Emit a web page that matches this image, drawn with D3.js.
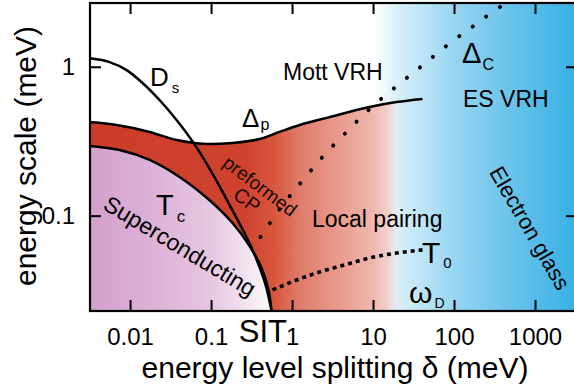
<!DOCTYPE html>
<html>
<head>
<meta charset="utf-8">
<style>
body { margin: 0; background: #fff; }
svg { font-family: "Liberation Sans", Arial, sans-serif; }
.axis path.domain { display: none; }
.axis line { stroke: #000; stroke-width: 2; }
.axis text { font-size: 24px; fill: #000; font-family: "Liberation Sans", Arial, sans-serif; }
.curve { fill: none; stroke: #000; stroke-width: 2.5; }
.lbl { fill: #000; }
</style>
<script src="https://cdn.jsdelivr.net/npm/d3@7"></script>
</head>
<body>
<svg width="574" height="390"></svg>
<script>

// tick values / labels
var xTicks = [0.01, 0.1, 1, 10, 100, 1000],
    xTickLabels = ["0.01", "0.1", "1", "10", "100", "1000"],
    yTicks = [0.1, 1],
    yTickLabels = ["0.1", "1"];

// curves, [delta (meV), energy (meV)]
var Ds = [[0.0032,1.14],[0.00558,1.075],[0.00906,0.95],[0.01426,0.778],[0.0231,0.598],[0.0375,0.439],
          [0.0608,0.308],[0.1045,0.191],[0.169,0.118],[0.274,0.0719],[0.375,0.0489],[0.471,0.0343],[0.558,0.0229]];
var Tc = [[0.0032,0.294],[0.00742,0.276],[0.0174,0.237],[0.0408,0.182],[0.0958,0.127],[0.184,0.0893],
          [0.299,0.0626],[0.42,0.0446],[0.513,0.0317],[0.558,0.0229]];
var Dp = [[0.0032,0.425],[0.00681,0.406],[0.0174,0.365],[0.0375,0.322],[0.0625,0.308],[0.0958,0.303],
          [0.184,0.308],[0.397,0.327],[0.701,0.365],[1.24,0.406],[2.9,0.459],[9.06,0.537],[19.5,0.579],[40.8,0.607]];
var Dc = [[0.408,0.0719],[0.721,0.1127],[1.3,0.168],[2.38,0.248],[4.71,0.365],[9.06,0.52],[18.9,0.731],
          [39.7,1.01],[83.2,1.4],[179,1.9],[385,2.55],[460,2.68]];
var T0 = [[0.574,0.0317],[1.14,0.037],[2.19,0.0419],[4.45,0.0467],[9.06,0.052],[19.5,0.0561],[40.8,0.0589]];

var svg = d3.select("svg");

var x = d3.scaleLog().domain([0.0032, 3300]).range([90, 577]),
    y = d3.scaleLog().domain([0.0229, 2.68]).range([311, 3]);

var line = d3.line()
    .x(function(d) { return x(d[0]); })
    .y(function(d) { return y(d[1]); })
    .curve(d3.curveMonotoneX);
var lineY = d3.line()
    .x(function(d) { return x(d[0]); })
    .y(function(d) { return y(d[1]); })
    .curve(d3.curveCatmullRom);

var defs = svg.append("defs");
defs.append("clipPath").attr("id", "plot")
  .append("rect").attr("x", 90).attr("y", 3).attr("width", 487).attr("height", 308);

function grad(id, stops) {
  var g = defs.append("linearGradient").attr("id", id)
      .attr("gradientUnits", "userSpaceOnUse")
      .attr("x1", 90).attr("x2", 577).attr("y1", 0).attr("y2", 0);
  stops.forEach(function(s) {
    g.append("stop").attr("offset", (s[0] - 90) / 487)
      .attr("stop-color", s[1]).attr("stop-opacity", s[2] == null ? 1 : s[2]);
  });
}
grad("blue", [[90,"#fff"],[375,"#fff"],[398,"#d8f0f9"],[420,"#bfe6f6"],[454,"#97d5f1"],[500,"#72c6ec"],[577,"#36b0e4"]]);
grad("red", [[90,"#cc3c28"],[245,"#cf432e"],[275,"#d8573f"],[300,"#e07c6a"],[340,"#e99c8f"],[373,"#efb8ae"],[388,"#f1cdc7",0.9],[400,"#f3e0dc",0]]);
grad("purple", [[90,"#d4a0cc"],[150,"#dcb1d6"],[210,"#e6c6e0"],[245,"#f2e2ef"],[272,"#fdf9fc"]]);

var plot = svg.append("g").attr("clip-path", "url(#plot)");

plot.append("rect").attr("x", 90).attr("y", 3).attr("width", 487).attr("height", 308)
    .attr("fill", "url(#blue)");

// red region: under Dp, above Tc
var tcPath = lineY(Tc.slice().reverse());
var yMin = y.domain()[0];
var redD = line(Dp) + "L" + x(Dp[Dp.length - 1][0]) + "," + y(yMin) +
    "L" + x(Tc[Tc.length - 1][0]) + "," + y(yMin) + "L" + tcPath.slice(1) + "Z";
plot.append("path").attr("d", redD).attr("fill", "url(#red)");

// superconducting region
plot.append("path")
    .attr("d", lineY(Tc) + "L" + x(x.domain()[0]) + "," + y(yMin) + "Z")
    .attr("fill", "url(#purple)");

plot.append("path").attr("class", "curve").attr("d", line(Dp));
plot.append("path").attr("class", "curve").attr("d", lineY(Tc));
plot.append("path").attr("class", "curve").attr("d", lineY(Ds));
plot.append("path").attr("d", line(Dc))
    .attr("fill", "none").attr("stroke", "#000").attr("stroke-width", 4)
    .attr("stroke-linecap", "round").attr("stroke-dasharray", "0.1,16.6");
plot.append("path").attr("d", line(T0))
    .attr("fill", "none").attr("stroke", "#000").attr("stroke-width", 3.6)
    .attr("stroke-dasharray", "4,4");

// axes
svg.append("g").attr("class", "axis").attr("transform", "translate(0,311)")
    .call(d3.axisBottom(x).tickValues(xTicks).tickSize(-11).tickPadding(17)
      .tickFormat(function(d, i) { return xTickLabels[i]; }));
svg.append("g").attr("class", "axis").attr("transform", "translate(0,3)")
    .call(d3.axisTop(x).tickValues(xTicks).tickSize(-11).tickFormat(""));
svg.append("g").attr("class", "axis").attr("transform", "translate(90,0)")
    .call(d3.axisLeft(y).tickValues(yTicks).tickSize(-11).tickPadding(15)
      .tickFormat(function(d, i) { return yTickLabels[i]; }));
svg.append("g").attr("class", "axis").attr("transform", "translate(577,0)")
    .call(d3.axisRight(y).tickValues(yTicks).tickSize(-11).tickFormat(""));

svg.append("rect").attr("x", 90).attr("y", 3).attr("width", 487).attr("height", 308)
    .attr("fill", "none").attr("stroke", "#000").attr("stroke-width", 2.2);

// axis titles
svg.append("text").attr("x", 335).attr("y", 378).attr("text-anchor", "middle")
    .attr("font-size", 30).text("energy level splitting δ (meV)");
svg.append("text").attr("transform", "translate(36,156) rotate(-90)").attr("text-anchor", "middle")
    .attr("font-size", 30).text("energy scale (meV)");

// labels
function sub(xp, yp, main, size, s, ssize, dx, dy) {
  var t = svg.append("text").attr("class", "lbl").attr("x", xp).attr("y", yp).attr("font-size", size);
  t.append("tspan").text(main);
  t.append("tspan").attr("font-size", ssize).attr("dx", dx).attr("dy", dy).text(s);
}
sub(150, 86, "D", 26, "s", 15, 3, 7);
sub(242, 127, "Δ", 26, "p", 16, 1, 3);
sub(462, 63, "Δ", 29, "C", 16, 1, 7);
sub(156, 215, "T", 29, "c", 17, 3, 7);
sub(422, 263, "T", 30, "0", 15, 3, 5);
sub(409, 303, "ω", 30, "D", 14, 2, 5);

svg.append("text").attr("x", 283).attr("y", 80).attr("font-size", 23).text("Mott VRH");
svg.append("text").attr("x", 463).attr("y", 107).attr("font-size", 23).text("ES VRH");
svg.append("text").attr("x", 312).attr("y", 227).attr("font-size", 23).text("Local pairing");
svg.append("text").attr("x", 287).attr("y", 342).attr("text-anchor", "end").attr("font-size", 31).text("SIT");

function rot(xp, yp, ang, size, txt, col) {
  svg.append("text").attr("transform", "translate(" + xp + "," + yp + ") rotate(" + ang + ")")
    .attr("text-anchor", "middle").attr("dy", "0.35em").attr("font-size", size)
    .attr("fill", col || "#000").text(txt);
}
rot(180, 246, 31, 23, "Superconducting");
rot(260, 186, 37, 19, "preformed", "#1a0804");
rot(247, 200, 37, 20, "CP", "#1a0804");
rot(530, 228, 60, 22, "Electron glass");

</script>
</body>
</html>
